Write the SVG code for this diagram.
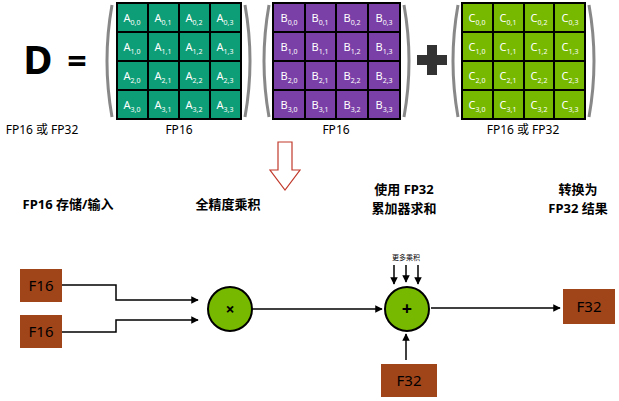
<svg xmlns="http://www.w3.org/2000/svg" width="619" height="401" viewBox="0 0 619 401">
<defs>
<marker id="ah" viewBox="0 0 10 10" refX="9" refY="5" markerWidth="5" markerHeight="5" orient="auto"><path d="M0,0L10,5L0,10z" fill="#000"/></marker>
<pattern id="gA" width="31" height="29" patternUnits="userSpaceOnUse" x="117" y="3"><rect width="31" height="29" fill="none" stroke="#000" stroke-width="2"/></pattern>
</defs>
<style>
text{font-family:"Noto Sans","Noto Sans CJK SC",sans-serif}
.c{font-size:11px;fill:#fff;text-anchor:middle}
.s{font-size:7px}
.lbl{font-size:12px;fill:#000;text-anchor:middle}
.t{font-size:13px;font-weight:bold;fill:#000;text-anchor:middle}
.par{fill:none;stroke:#888;stroke-width:3}
.box{fill:#a0441a}
.bt{font-size:15px;fill:#000;text-anchor:middle}
.circ{fill:#76b900;stroke:#000;stroke-width:2}
.ln{fill:none;stroke:#000;stroke-width:1.5}
</style>
<rect width="619" height="401" fill="#fff"/>
<g id="formula">
<text x="38" y="74" font-size="40" font-weight="bold" text-anchor="middle">D</text>
<text x="77" y="73" font-size="34" font-weight="bold" text-anchor="middle">=</text>
<path class="par" d="M112,5 Q102,61 112,117"/><path class="par" d="M245,5 Q255,61 245,117"/>
<path class="par" d="M269,5 Q259,61 269,117"/><path class="par" d="M404,5 Q414,61 404,117"/>
<path class="par" d="M458,5 Q448,61 458,117"/><path class="par" d="M589,5 Q599,61 589,117"/>
<path d="M427,52h10v10h10v10h-10v10h-10v-10h-10v-10h10z" fill="#333" transform="translate(0,-7)"/>
<text class="lbl" x="42" y="134">FP16 或 FP32</text>
<text class="lbl" x="179" y="134">FP16</text>
<text class="lbl" x="336" y="134">FP16</text>
<text class="lbl" x="523" y="134">FP16 或 FP32</text>
</g>
<g id="matA">
<rect x="117" y="3" width="124" height="116" fill="#0d9e78" stroke="#000" stroke-width="2"/>
<path d="M148,3v116M179,3v116M210,3v116M117,32h124M117,61h124M117,90h124" stroke="#000" stroke-width="2"/>
<text class="c" x="132" y="22">A<tspan class="s" dy="3">0,0</tspan></text><text class="c" x="163" y="22">A<tspan class="s" dy="3">0,1</tspan></text><text class="c" x="194" y="22">A<tspan class="s" dy="3">0,2</tspan></text><text class="c" x="225" y="22">A<tspan class="s" dy="3">0,3</tspan></text>
<text class="c" x="132" y="51">A<tspan class="s" dy="3">1,0</tspan></text><text class="c" x="163" y="51">A<tspan class="s" dy="3">1,1</tspan></text><text class="c" x="194" y="51">A<tspan class="s" dy="3">1,2</tspan></text><text class="c" x="225" y="51">A<tspan class="s" dy="3">1,3</tspan></text>
<text class="c" x="132" y="80">A<tspan class="s" dy="3">2,0</tspan></text><text class="c" x="163" y="80">A<tspan class="s" dy="3">2,1</tspan></text><text class="c" x="194" y="80">A<tspan class="s" dy="3">2,2</tspan></text><text class="c" x="225" y="80">A<tspan class="s" dy="3">2,3</tspan></text>
<text class="c" x="132" y="109">A<tspan class="s" dy="3">3,0</tspan></text><text class="c" x="163" y="109">A<tspan class="s" dy="3">3,1</tspan></text><text class="c" x="194" y="109">A<tspan class="s" dy="3">3,2</tspan></text><text class="c" x="225" y="109">A<tspan class="s" dy="3">3,3</tspan></text>
</g>
<g id="matB">
<rect x="273" y="3" width="127" height="116" fill="#7b3fa8" stroke="#000" stroke-width="2"/>
<path d="M305,3v116M336,3v116M368,3v116M273,32h127M273,61h127M273,90h127" stroke="#000" stroke-width="2"/>
<text class="c" x="289" y="22">B<tspan class="s" dy="3">0,0</tspan></text><text class="c" x="320" y="22">B<tspan class="s" dy="3">0,1</tspan></text><text class="c" x="352" y="22">B<tspan class="s" dy="3">0,2</tspan></text><text class="c" x="384" y="22">B<tspan class="s" dy="3">0,3</tspan></text>
<text class="c" x="289" y="51">B<tspan class="s" dy="3">1,0</tspan></text><text class="c" x="320" y="51">B<tspan class="s" dy="3">1,1</tspan></text><text class="c" x="352" y="51">B<tspan class="s" dy="3">1,2</tspan></text><text class="c" x="384" y="51">B<tspan class="s" dy="3">1,3</tspan></text>
<text class="c" x="289" y="80">B<tspan class="s" dy="3">2,0</tspan></text><text class="c" x="320" y="80">B<tspan class="s" dy="3">2,1</tspan></text><text class="c" x="352" y="80">B<tspan class="s" dy="3">2,2</tspan></text><text class="c" x="384" y="80">B<tspan class="s" dy="3">2,3</tspan></text>
<text class="c" x="289" y="109">B<tspan class="s" dy="3">3,0</tspan></text><text class="c" x="320" y="109">B<tspan class="s" dy="3">3,1</tspan></text><text class="c" x="352" y="109">B<tspan class="s" dy="3">3,2</tspan></text><text class="c" x="384" y="109">B<tspan class="s" dy="3">3,3</tspan></text>
</g>
<g id="matC">
<rect x="462" y="3" width="123" height="116" fill="#76b900" stroke="#000" stroke-width="2"/>
<path d="M493,3v116M524,3v116M554,3v116M462,32h123M462,61h123M462,90h123" stroke="#000" stroke-width="2"/>
<text class="c" x="477" y="22">C<tspan class="s" dy="3">0,0</tspan></text><text class="c" x="508" y="22">C<tspan class="s" dy="3">0,1</tspan></text><text class="c" x="539" y="22">C<tspan class="s" dy="3">0,2</tspan></text><text class="c" x="570" y="22">C<tspan class="s" dy="3">0,3</tspan></text>
<text class="c" x="477" y="51">C<tspan class="s" dy="3">1,0</tspan></text><text class="c" x="508" y="51">C<tspan class="s" dy="3">1,1</tspan></text><text class="c" x="539" y="51">C<tspan class="s" dy="3">1,2</tspan></text><text class="c" x="570" y="51">C<tspan class="s" dy="3">1,3</tspan></text>
<text class="c" x="477" y="80">C<tspan class="s" dy="3">2,0</tspan></text><text class="c" x="508" y="80">C<tspan class="s" dy="3">2,1</tspan></text><text class="c" x="539" y="80">C<tspan class="s" dy="3">2,2</tspan></text><text class="c" x="570" y="80">C<tspan class="s" dy="3">2,3</tspan></text>
<text class="c" x="477" y="109">C<tspan class="s" dy="3">3,0</tspan></text><text class="c" x="508" y="109">C<tspan class="s" dy="3">3,1</tspan></text><text class="c" x="539" y="109">C<tspan class="s" dy="3">3,2</tspan></text><text class="c" x="570" y="109">C<tspan class="s" dy="3">3,3</tspan></text>
</g>
<g id="downarrow"><path d="M278,142h14v28h8l-15,20l-15,-20h8z" fill="#fff" stroke="#c0392b" stroke-width="1.2"/></g>
<g id="titles">
<text class="t" x="68" y="209">FP16 存储/输入</text>
<text class="t" x="228" y="209">全精度乘积</text>
<text class="t" x="404" y="194">使用 FP32</text>
<text class="t" x="404" y="213">累加器求和</text>
<text class="t" x="578" y="194">转换为</text>
<text class="t" x="578" y="213">FP32 结果</text>
</g>
<g id="connectors">
<path class="ln" d="M62,285H116V300H198" marker-end="url(#ah)"/>
<path class="ln" d="M62,332H116V320H198" marker-end="url(#ah)"/>
<path class="ln" d="M252,309H382" marker-end="url(#ah)"/>
<path class="ln" d="M431,308H560" marker-end="url(#ah)"/>
<path class="ln" d="M406,360V334" marker-end="url(#ah)"/>
<path class="ln" d="M394,265V284" marker-end="url(#ah)"/>
<path class="ln" d="M406,265V282" marker-end="url(#ah)"/>
<path class="ln" d="M418,265V284" marker-end="url(#ah)"/>
</g>
<text x="406" y="260" font-size="7" text-anchor="middle">更多乘积</text>
<g id="f16a"><rect class="box" x="20" y="269" width="42" height="33"/><text class="bt" x="41" y="291">F16</text></g>
<g id="f16b"><rect class="box" x="20" y="315" width="42" height="33"/><text class="bt" x="41" y="337">F16</text></g>
<g id="mul"><circle class="circ" cx="230" cy="309" r="22"/><text x="230" y="315" font-size="16" font-weight="bold" text-anchor="middle">×</text></g>
<g id="add"><circle class="circ" cx="407" cy="309" r="22"/><text x="407" y="315" font-size="18" font-weight="bold" text-anchor="middle">+</text></g>
<g id="f32r"><rect class="box" x="563" y="289" width="52" height="35"/><text class="bt" x="589" y="312">F32</text></g>
<g id="f32b"><rect class="box" x="381" y="364" width="56" height="33"/><text class="bt" x="409" y="386">F32</text></g>
</svg>
